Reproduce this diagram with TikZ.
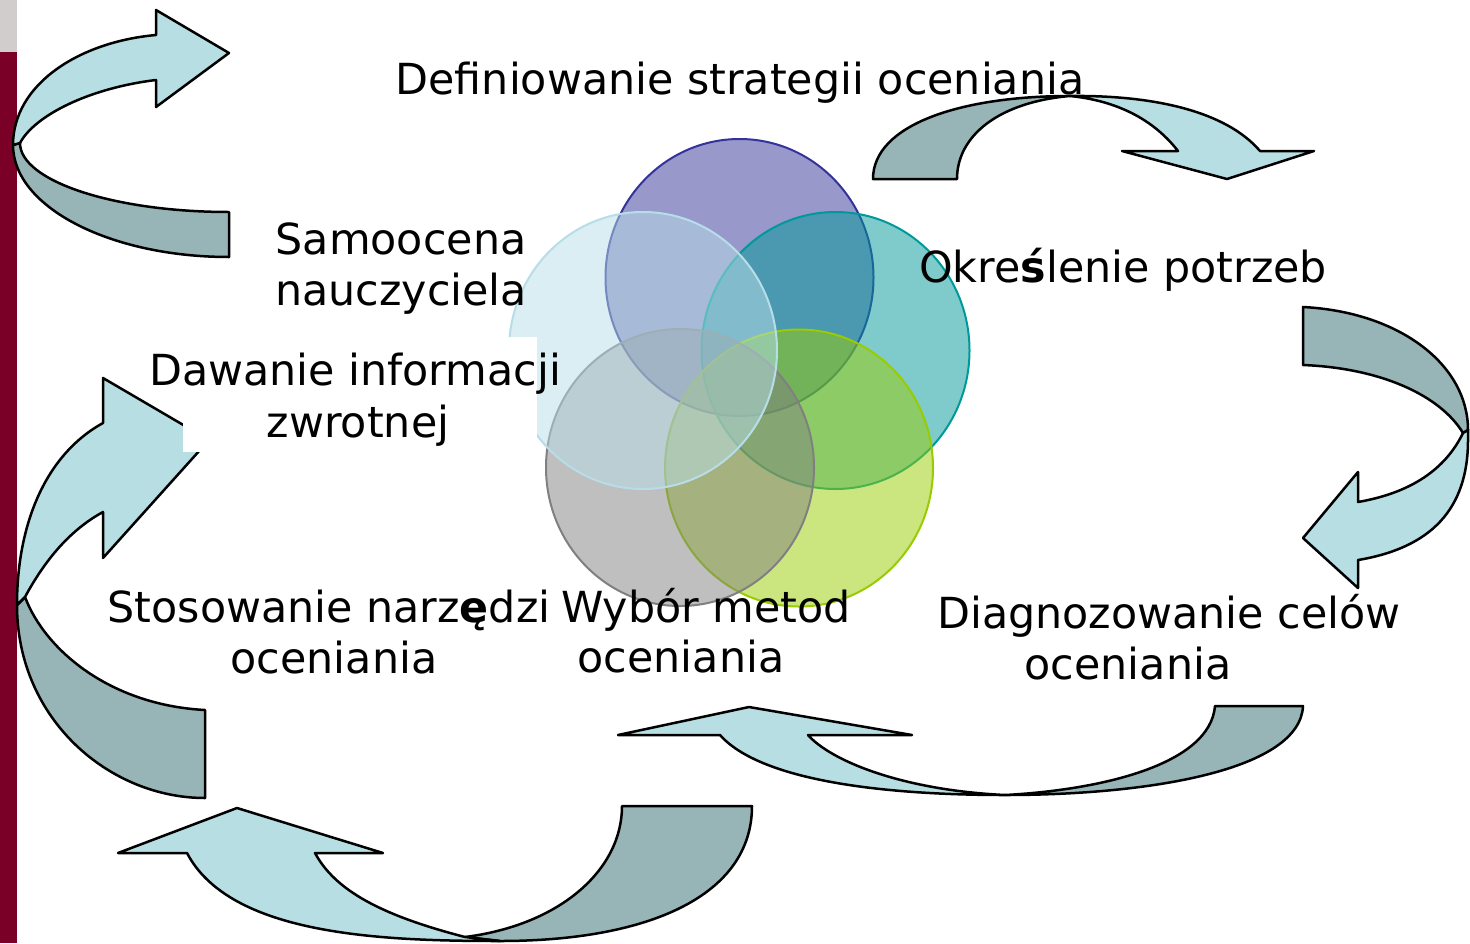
\documentclass[tikz,border=0pt]{standalone}
\usepackage{fontspec}
\setmainfont{DejaVu Sans}
\definecolor{arrlight}{RGB}{183,223,227}
\definecolor{arrdark}{RGB}{151,180,182}
\definecolor{barmaroon}{RGB}{122,0,40}
\definecolor{bargray}{RGB}{210,205,205}
\definecolor{cpurple}{RGB}{51,51,153}
\definecolor{cteal}{RGB}{0,153,153}
\definecolor{clight}{RGB}{183,222,232}
\definecolor{cgray}{RGB}{128,128,128}
\definecolor{cgreen}{RGB}{153,204,0}
\begin{document}
\begin{tikzpicture}[x=1pt,y=-1pt,
  lt/.style={fill=arrlight, draw=black, line width=2.5pt, line join=round},
  dk/.style={fill=arrdark, draw=black, line width=2.5pt, line join=round},
  lbl/.style={font=\fontsize{42.8}{51}\selectfont, inner sep=0pt, anchor=base},
  circ/.style={line width=2pt, fill opacity=0.5}]
\useasboundingbox (0,0) rectangle (1470,943);
\fill[white] (0,0) rectangle (1470,943);
% left bar
\fill[bargray] (0,0) rectangle (17,52);
\fill[barmaroon] (0,52) rectangle (17,943);

% top-left arrow
\draw[dk] (20,143) -- (13,145) .. controls (13,207) and (110,257) .. (229,257) -- (229,212)
  .. controls (114,212) and (20,181) .. (20,143) -- cycle;
\draw[lt] (156,35) .. controls (78,42) and (13,85) .. (13,145) -- (20,143)
  .. controls (35,115) and (90,88) .. (156,80) -- (156,107) -- (229,53) -- (156,10) -- cycle;

% top-right arrow
\draw[dk] (873,179) .. controls (873,125) and (960,96) .. (1070,96)
  .. controls (1000,102) and (957,135) .. (957,179) -- cycle;
\draw[lt] (1070,96) .. controls (1150,95) and (1225,110) .. (1260,151) -- (1314,151) -- (1227,179)
  -- (1122,151) -- (1178,151) .. controls (1150,115) and (1110,100) .. (1070,96) -- cycle;

% right arrow
\draw[dk] (1303,307) .. controls (1400,312) and (1468,365) .. (1468,430) -- (1463,433)
  .. controls (1440,395) and (1380,368) .. (1303,365) -- cycle;
\draw[lt] (1463,433) -- (1468,430) -- (1468,440) .. controls (1468,510) and (1430,548) .. (1358,560)
  -- (1358,588) -- (1303,538) -- (1358,472) -- (1358,502)
  .. controls (1410,493) and (1445,470) .. (1463,433) -- cycle;

% bottom-right arrow
\draw[dk] (1303,706) .. controls (1300,770) and (1150,795) .. (1005,795)
  .. controls (1100,790) and (1210,765) .. (1215,706) -- cycle;
\draw[lt] (720,735) .. controls (760,780) and (880,795) .. (1005,795)
  .. controls (900,790) and (830,760) .. (808,735) -- (912,735) -- (749,707) -- (618,735) -- cycle;

% bottom-left arrow
\draw[dk] (752,806) .. controls (752,895) and (650,941) .. (500,941) -- (465,937)
  .. controls (560,925) and (622,870) .. (622,806) -- cycle;
\draw[lt] (187,853) .. controls (230,935) and (380,941) .. (500,941) -- (465,937)
  .. controls (380,915) and (335,890) .. (315,853) -- (383,853) -- (237,808) -- (118,853) -- cycle;

% left arrow
\draw[dk] (17,605) .. controls (17,720) and (110,798) .. (205,798) -- (205,710)
  .. controls (110,705) and (45,650) .. (25,597) -- cycle;
\draw[lt] (103,423) .. controls (45,455) and (17,525) .. (17,605) -- (25,597)
  .. controls (45,560) and (70,530) .. (103,512) -- (103,558) -- (209,440) -- (103,378) -- cycle;

% Venn circles
\draw[circ, draw=cpurple, fill=cpurple] (739.5,277.5) ellipse [x radius=134, y radius=138.5];
\draw[circ, draw=cteal, fill=cteal] (835.5,350.5) ellipse [x radius=134, y radius=138.5];
\draw[circ, draw=cgreen, fill=cgreen] (799,468) ellipse [x radius=134, y radius=138.5];
\draw[circ, draw=cgray, fill=cgray] (680,467.5) ellipse [x radius=134, y radius=138.5];
\draw[circ, draw=clight, fill=clight] (643,350.5) ellipse [x radius=134, y radius=138.5];

% white text box behind "Dawanie informacji zwrotnej"
\fill[white] (183,337) rectangle (537,452);

% labels
\node[lbl] (def) at (740,94) {Definiowanie strategii oceniania};
\node[lbl] (sam1) at (401,254) {Samoocena};
\node[lbl] (sam2) at (401,305) {nauczyciela};
\node[lbl, anchor=base west] (okr) at (919,282) {Okre\textbf{ś}lenie potrzeb};
\node[lbl] (daw1) at (355,385) {Dawanie informacji};
\node[lbl] (daw2) at (358,437) {zwrotnej};
\node[lbl] (sto1) at (329,622) {Stosowanie narz\textbf{ę}dzi};
\node[lbl] (sto2) at (334,673) {oceniania};
\node[lbl] (wyb1) at (706,622) {Wybór metod};
\node[lbl] (wyb2) at (681,672) {oceniania};
\node[lbl] (dia1) at (1169,628) {Diagnozowanie celów};
\node[lbl] (dia2) at (1128,679) {oceniania};
\end{tikzpicture}
\end{document}
